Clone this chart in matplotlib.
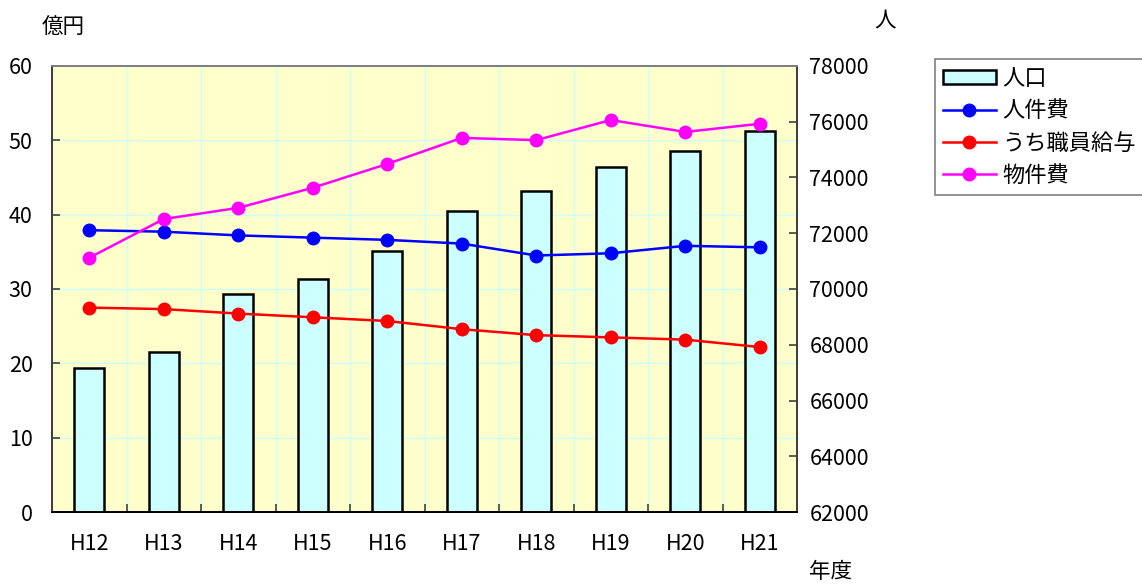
import matplotlib
matplotlib.use("Agg")
import matplotlib.pyplot as plt
import numpy as np
from matplotlib.patches import Patch
from matplotlib.lines import Line2D

plt.rcParams['font.family'] = ['Noto Sans CJK JP', 'DejaVu Sans']

# data
years = ["H12", "H13", "H14", "H15", "H16", "H17", "H18", "H19", "H20", "H21"]
population = [67160, 67730, 69810, 70370, 71370, 72810, 73510, 74380, 74960, 75670]
personnel = [37.9, 37.7, 37.2, 36.9, 36.6, 36.1, 34.5, 34.8, 35.8, 35.6]
salary = [27.5, 27.3, 26.7, 26.2, 25.7, 24.6, 23.8, 23.5, 23.2, 22.2]
goods = [34.2, 39.4, 40.9, 43.6, 46.8, 50.3, 50.0, 52.7, 51.1, 52.2]

left_ticks = [0, 10, 20, 30, 40, 50, 60]
right_ticks = [62000, 64000, 66000, 68000, 70000, 72000, 74000, 76000, 78000]

bar_color = "#CCFFFF"
bg_color = "#FFFFCC"
grid_color = "#CCFFFF"

fig = plt.figure(figsize=(11.42, 5.85), dpi=100)
ax = fig.add_axes([52 / 1142, 1 - 512.3 / 585, 745 / 1142, 446.6 / 585])
x = np.arange(len(years))

# background axis: left scale, grid, yellow fill
ax.set_facecolor(bg_color)
ax.set_xlim(-0.5, len(years) - 0.5)
ax.set_ylim(0, 60)
ax.set_yticks(left_ticks)
ax.set_xticks(x)
ax.set_xticklabels(years)
ax.set_xticks(np.arange(len(years) + 1) - 0.5, minor=True)
ax.grid(True, axis='y', color=grid_color, linewidth=1)
ax.grid(True, axis='x', which='minor', color=grid_color, linewidth=1)
ax.set_axisbelow(True)
ax.tick_params(axis='x', which='major', length=0, pad=15, labelsize=15.5)
ax.tick_params(axis='x', which='minor', direction='in', length=6, width=1.2, color='#404040')
ax.tick_params(axis='y', direction='in', length=6, width=1.2, color='#404040', pad=14, labelsize=15.5)

# population bars on right scale
ax2 = ax.twinx()
ax2.bar(x, population, width=0.4, color=bar_color, edgecolor='black', linewidth=1.8)
ax2.set_ylim(62000, 78000)
ax2.set_yticks(right_ticks)
ax2.tick_params(axis='y', direction='in', length=6, width=1.2, color='#404040', pad=9, labelsize=15.5)

# lines on left scale, drawn above the bars
ax3 = ax.twinx()
ax3.set_ylim(0, 60)
ax3.set_yticks([])
line_kw = dict(linewidth=1.8, marker='o', markersize=9)
ax3.plot(x, personnel, color='#0000FF', **line_kw)
ax3.plot(x, salary, color='#FF0000', **line_kw)
ax3.plot(x, goods, color='#FF00FF', **line_kw)

for a in (ax, ax2, ax3):
    a.spines['left'].set_color('#404040')
    a.spines['right'].set_color('#404040')
    a.spines['top'].set_color('#808080')
    a.spines['bottom'].set_color('black')
    for s in a.spines.values():
        s.set_linewidth(1.3)

fig.text(63 / 1142, 1 - 28 / 585, "億円", ha='center', va='center', fontsize=15.5)
fig.text(885 / 1142, 1 - 20 / 585, "人", ha='center', va='center', fontsize=15.5)
fig.text(830 / 1142, 1 - 572 / 585, "年度", ha='center', va='center', fontsize=15.5)

handles = [
    Patch(facecolor=bar_color, edgecolor='black', linewidth=1.8),
    Line2D([], [], color='#0000FF', **line_kw),
    Line2D([], [], color='#FF0000', **line_kw),
    Line2D([], [], color='#FF00FF', **line_kw),
]
labels = ["人口", "人件費", "うち職員給与", "物件費"]
leg = fig.legend(handles, labels, loc='upper left', bbox_to_anchor=(935 / 1142, 1 - 59 / 585),
                 bbox_transform=fig.transFigure, fontsize=16, frameon=True, fancybox=False,
                 edgecolor='#606060', handlelength=2.4, handleheight=0.6, handletextpad=0.3,
                 labelspacing=0.42, borderpad=0.35, borderaxespad=0)
leg.get_frame().set_linewidth(1.2)

fig.savefig("out.png", dpi=100)
